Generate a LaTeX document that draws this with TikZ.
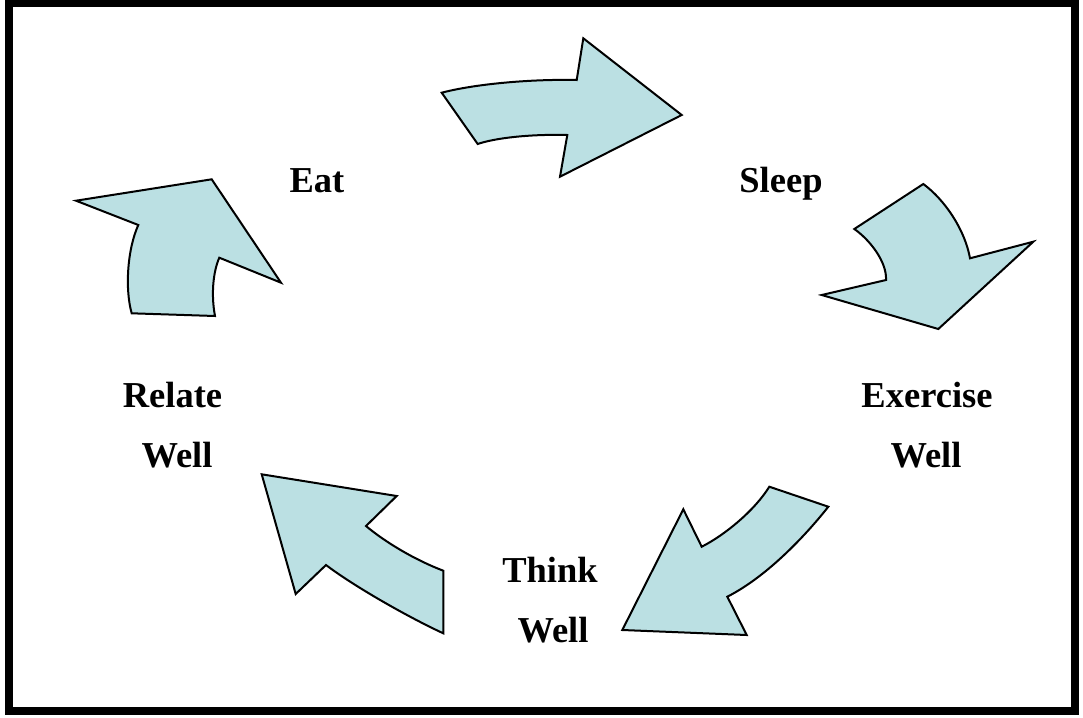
\documentclass[tikz,border=0pt]{standalone}
\usepackage{fontspec}
\setmainfont{Liberation Serif}
\definecolor{arrowfill}{RGB}{187,224,227}
\begin{document}
\begin{tikzpicture}[x=1pt,y=-1pt,
  cyclearrow/.style={draw=black,fill=arrowfill,line width=2pt,line join=miter},
  lbl/.style={anchor=base,inner sep=0pt,font=\fontsize{36.5}{42}\selectfont\bfseries}]
\useasboundingbox (0,0) rectangle (1083,717);
\draw[line width=8pt] (9,3.5) rectangle (1075,710.5);
% arrow 1 (top)
\draw[cyclearrow] (441.7,92.7) .. controls (475,84) and (530,79) .. (576.7,80)
  -- (583.3,38.3) -- (681.7,115) -- (560,176.7) -- (567.3,135)
  .. controls (530,134) and (495,138) .. (477.7,144) -- cycle;
% arrow 2 (right top)
\draw[cyclearrow] (854.3,229) -- (923.3,184)
  .. controls (945,200) and (965,230) .. (970,258.3)
  -- (1033.3,241.7) -- (938.3,329) -- (821.7,295) -- (886,280)
  .. controls (887,262) and (870,240) .. cycle;
% arrow 3 (bottom right)
\draw[cyclearrow] (769.3,486.7) -- (828.3,506.7)
  .. controls (810,530) and (770,575) .. (727.3,596.7)
  -- (746.7,635) -- (622.3,630) -- (683.3,509.3) -- (701.7,546.7)
  .. controls (725,535) and (755,510) .. cycle;
% arrow 4 (bottom left)
\draw[cyclearrow] (261.7,474.3) -- (396.7,496) -- (366,526)
  .. controls (385,542) and (415,560) .. (443.3,570.7)
  -- (443.3,633.3)
  .. controls (410,618) and (355,587) .. (326,565)
  -- (295.7,594) -- cycle;
% arrow 5 (left)
\draw[cyclearrow] (76,200.7) -- (211.7,179.3) -- (281,282.7) -- (219.3,257.7)
  .. controls (213,272) and (211,295) .. (215,316)
  -- (131.7,313.3)
  .. controls (125,290) and (127,250) .. (138.3,225) -- cycle;
% labels
\node[lbl] (eat) at (317,192) {Eat};
\node[lbl] (sleep) at (781,192) {Sleep};
\node[lbl] (exercise) at (927,407) {Exercise};
\node[lbl] (exwell) at (926,467) {Well};
\node[lbl] (think) at (550,582) {Think};
\node[lbl] (thwell) at (553,642) {Well};
\node[lbl] (relate) at (172.5,407) {Relate};
\node[lbl] (rewell) at (177,467) {Well};
\end{tikzpicture}
\end{document}
